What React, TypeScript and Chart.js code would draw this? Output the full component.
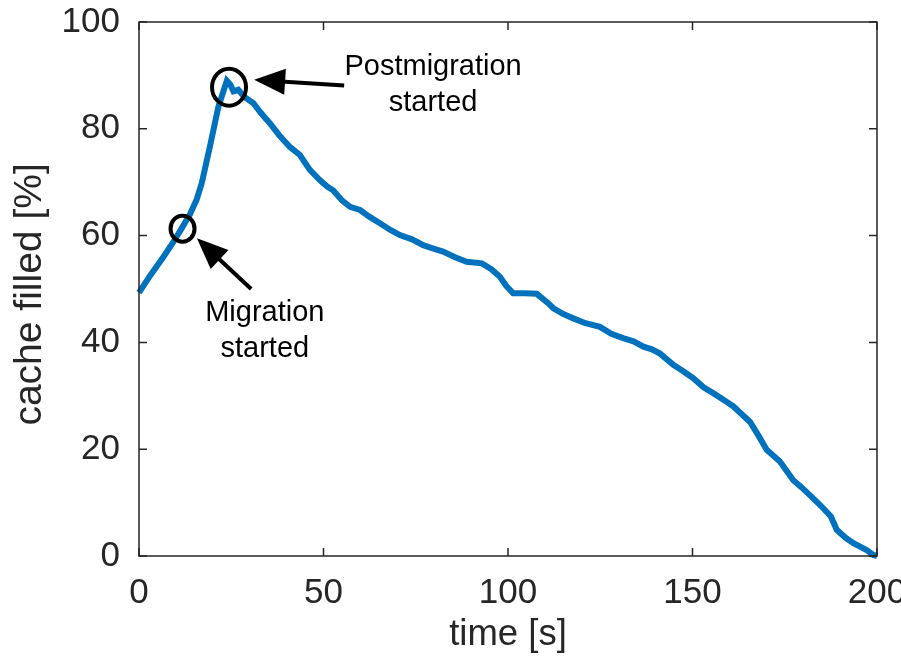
import React, { useEffect, useRef } from "react";
import { Chart, registerables } from "chart.js";

Chart.register(...registerables);

// ---- data ----
const timeS: number[] = [
  0, 3, 6.6, 9.5, 11.6, 13.8, 15.6, 17, 19.2, 21.5, 23.8, 24.8, 25.6, 26.9,
  28.5, 31, 33, 35.5, 38, 40.9, 43.6, 46.3, 49, 51, 52.6, 55, 57.2, 59.9, 62.5,
  65.3, 68, 70.7, 74, 77, 80, 82.4, 85.5, 88.8, 92.9, 95.5, 97.8, 99.5, 101.4,
  104.5, 107.8, 110.8, 112.3, 115, 117.7, 121, 124.9, 128, 131.2, 134, 136.7,
  139, 141.2, 144.8, 147.5, 150.2, 153, 155.6, 158.5, 161.1, 165.6, 168,
  170.1, 173.7, 177.3, 179.5, 181.8, 185.5, 187.5, 189.1, 191.5, 193.6,
  197.2, 199, 200,
];
const cacheFilled: number[] = [
  49.3, 52.5, 56, 59, 61.4, 64, 66.7, 69.8, 76.6, 84.1, 89.0, 88.2, 87, 87.3,
  86, 84.8, 83, 81, 78.8, 76.6, 75.1, 72.3, 70.4, 69.2, 68.5, 66.6, 65.4,
  64.8, 63.5, 62.3, 61.1, 60.1, 59.3, 58.2, 57.5, 57, 56, 55.1, 54.8, 53.7,
  52.3, 50.6, 49.2, 49.2, 49.1, 47.4, 46.4, 45.3, 44.5, 43.6, 42.9, 41.6,
  40.8, 40.2, 39.2, 38.7, 37.9, 35.8, 34.6, 33.3, 31.6, 30.5, 29.2, 28, 25.1,
  22.4, 19.9, 17.7, 14.2, 12.9, 11.4, 8.9, 7.4, 4.9, 3.4, 2.4, 1.1, 0.2, 0,
];
const xTickValues: number[] = [0, 50, 100, 150, 200];
const yTickValues: number[] = [0, 20, 40, 60, 80, 100];
const xAxisTitle = "time [s]";
const yAxisTitle = "cache filled [%] ";

// annotations (data units)
const markerLabels: string[][] = [["Postmigration", "started"], ["Migration", "started"]];
const markerX: number[] = [24.4, 11.8];
const markerY: number[] = [87.8, 61.3];
const arrowTipX: number[] = [31.2, 15.7];
const arrowTipY: number[] = [89.2, 59.5];
const arrowTailX: number[] = [55.6, 30.4];
const arrowTailY: number[] = [88.1, 50.0];
const labelX: number[] = [79.7, 34.1];
const labelY: number[] = [91.5, 45.5];

const AXIS_COLOR = "#262626";
const LINE_COLOR = "#0072BD";
const FONT = "'Liberation Sans', Arial, Helvetica, sans-serif";

const boxPlugin = {
  id: "matlabBox",
  afterDatasetsDraw(chart: any) {
    const { ctx, chartArea: a, scales } = chart;
    const xs = scales.x;
    const ys = scales.y;
    ctx.save();
    ctx.strokeStyle = AXIS_COLOR;
    ctx.lineWidth = 1.5;
    ctx.beginPath();
    ctx.rect(a.left, a.top, a.right - a.left, a.bottom - a.top);
    ctx.stroke();
    const tl = 8;
    ctx.beginPath();
    xTickValues.forEach((v) => {
      const px = xs.getPixelForValue(v);
      ctx.moveTo(px, a.bottom);
      ctx.lineTo(px, a.bottom - tl);
      ctx.moveTo(px, a.top);
      ctx.lineTo(px, a.top + tl);
    });
    yTickValues.forEach((v) => {
      const py = ys.getPixelForValue(v);
      ctx.moveTo(a.left, py);
      ctx.lineTo(a.left + tl, py);
      ctx.moveTo(a.right, py);
      ctx.lineTo(a.right - tl, py);
    });
    ctx.stroke();

    // annotations
    const rx = [17, 12];
    const ry = [18.5, 13];
    ctx.strokeStyle = "#000";
    ctx.fillStyle = "#000";
    ctx.lineWidth = 4;
    for (let i = 0; i < markerX.length; i++) {
      const cx = xs.getPixelForValue(markerX[i]);
      const cy = ys.getPixelForValue(markerY[i]);
      ctx.beginPath();
      ctx.ellipse(cx, cy, rx[i], ry[i], 0, 0, Math.PI * 2);
      ctx.stroke();

      const tx = xs.getPixelForValue(arrowTipX[i]);
      const ty = ys.getPixelForValue(arrowTipY[i]);
      const sx = xs.getPixelForValue(arrowTailX[i]);
      const sy = ys.getPixelForValue(arrowTailY[i]);
      const ang = Math.atan2(ty - sy, tx - sx);
      const hl = 31;
      const hw = 13;
      const bx = tx - hl * Math.cos(ang);
      const by = ty - hl * Math.sin(ang);
      ctx.beginPath();
      ctx.moveTo(sx, sy);
      ctx.lineTo(bx + 4 * Math.cos(ang), by + 4 * Math.sin(ang));
      ctx.stroke();
      ctx.beginPath();
      ctx.moveTo(tx, ty);
      ctx.lineTo(bx + hw * Math.sin(ang), by - hw * Math.cos(ang));
      ctx.lineTo(bx - hw * Math.sin(ang), by + hw * Math.cos(ang));
      ctx.closePath();
      ctx.fill();

      ctx.font = `29px ${FONT}`;
      ctx.textAlign = "center";
      ctx.textBaseline = "middle";
      const lx = xs.getPixelForValue(labelX[i]);
      const ly = ys.getPixelForValue(labelY[i]);
      markerLabels[i].forEach((t, k) => {
        ctx.fillText(t, lx, ly + k * 36);
      });
    }
    ctx.restore();
  },
};

export default function App() {
  const ref = useRef<HTMLCanvasElement | null>(null);
  useEffect(() => {
    if (!ref.current) return;
    const chart = new Chart(ref.current, {
      type: "line",
      data: {
        datasets: [
          {
            data: timeS.map((t, i) => ({ x: t, y: cacheFilled[i] })),
            borderColor: LINE_COLOR,
            borderWidth: 6,
            pointRadius: 0,
            tension: 0,
            clip: false as any,
          },
        ],
      },
      options: {
        animation: false,
        responsive: false,
        devicePixelRatio: 1,
        layout: { padding: { top: 22, right: 24, left: 0, bottom: 0 } },
        plugins: { legend: { display: false }, tooltip: { enabled: false } },
        scales: {
          x: {
            type: "linear",
            min: 0,
            max: 200,
            afterBuildTicks: (s: any) => {
              s.ticks = xTickValues.map((v) => ({ value: v }));
            },
            afterFit: (s: any) => {
              s.height = 101;
              s.paddingLeft = 0;
              s.paddingRight = 0;
            },
            ticks: {
              color: AXIS_COLOR,
              font: { size: 35, family: FONT },
              padding: 16,
              maxRotation: 0,
            },
            grid: { display: true, drawOnChartArea: false, drawTicks: false },
            border: { display: false },
            title: {
              display: true,
              text: xAxisTitle,
              color: AXIS_COLOR,
              font: { size: 36.5, family: FONT },
              padding: { top: 0, bottom: 0 },
            },
          },
          y: {
            type: "linear",
            min: 0,
            max: 100,
            afterBuildTicks: (s: any) => {
              s.ticks = yTickValues.map((v) => ({ value: v }));
            },
            afterFit: (s: any) => {
              s.width = 139;
              s.paddingTop = 0;
              s.paddingBottom = 0;
            },
            ticks: {
              color: AXIS_COLOR,
              font: { size: 35, family: FONT },
              padding: 19,
            },
            grid: { display: true, drawOnChartArea: false, drawTicks: false },
            border: { display: false },
            title: {
              display: true,
              text: yAxisTitle,
              color: AXIS_COLOR,
              font: { size: 39, family: FONT },
              padding: { top: 7, bottom: 0 },
            },
          },
        },
      },
      plugins: [boxPlugin],
    });
    return () => chart.destroy();
  }, []);
  return (
    <div style={{ position: "fixed", left: 0, top: 0, width: 901, height: 657, background: "#fff" }}>
      <canvas ref={ref} width={901} height={657} style={{ width: 901, height: 657 }} />
    </div>
  );
}
